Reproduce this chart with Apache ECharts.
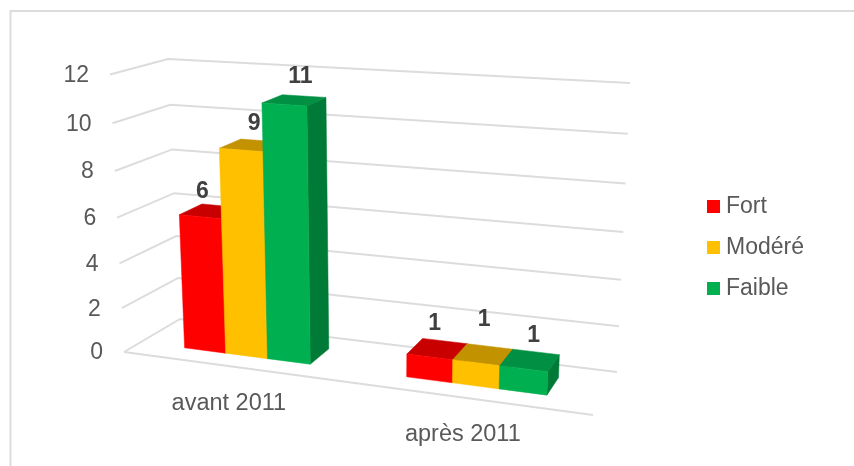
<!DOCTYPE html>
<html>
<head>
<meta charset="utf-8">
<style>
  html, body { margin: 0; padding: 0; background: #fff; }
  #chart { width: 854px; height: 466px; }
</style>
<script src="https://cdn.jsdelivr.net/npm/echarts@6/dist/echarts.min.js"></script>
</head>
<body>
<div id="chart"></div>
<script>
const categories = ["avant 2011", "après 2011"];
const tickValues = [0, 2, 4, 6, 8, 10, 12];
const fort = [6, 1];
const modere = [9, 1];
const faible = [11, 1];

const FONT = '"Liberation Sans", Arial, sans-serif';

// corners of the 3D box on the page, [front/back][left/right][bottom/top]
const box = {
  flb: [124, 352], flt: [110, 74.5],
  frb: [593, 415], frt: [606, 107],
  blb: [180, 319], blt: [168, 59],
  brb: [617, 372], brt: [630, 83],
};
const K_X = 1.116; // perspective along the categories
const K_V = 1.066; // perspective along the values
const BAR_FRONT = 0.3;
const BAR_BACK = 0.72;

function warp(a, k) {
  return a / (a + (1 - a) * k);
}
function mix(p, q, t) {
  return [p[0] + (q[0] - p[0]) * t, p[1] + (q[1] - p[1]) * t];
}
// s: 0..1 along categories, z: 0 front..1 back, t: 0..1 along values
function project(s, z, t) {
  const u = warp(s, K_X);
  const v = warp(t, K_V);
  const lb = mix(box.flb, box.blb, z);
  const lt = mix(box.flt, box.blt, z);
  const rb = mix(box.frb, box.brb, z);
  const rt = mix(box.frt, box.brt, z);
  return mix(mix(lb, rb, u), mix(lt, rt, u), v);
}
// api.coord gives plain grid pixels, turned here into box fractions
function frac(params, pt) {
  const c = params.coordSys;
  return [(pt[0] - c.x) / c.width, (c.y + c.height - pt[1]) / c.height];
}

function wallItem(params, api) {
  const f = frac(params, api.coord([0, api.value(0)]));
  const t = f[1];
  const lineStyle = { stroke: "#dcdcdc", lineWidth: 2, fill: null };
  const children = [
    {
      type: "polyline",
      shape: { points: [project(0, 0, t), project(0, 1, t), project(1, 1, t)] },
      style: lineStyle,
    },
  ];
  if (t === 0) {
    children.push({
      type: "polyline",
      shape: { points: [project(0, 0, 0), project(1, 0, 0)] },
      style: lineStyle,
    });
  }
  const p = project(0, 0, t);
  children.push({
    type: "text",
    style: {
      x: p[0] - 21,
      y: p[1] + 1,
      text: String(api.value(0)),
      align: "right",
      verticalAlign: "middle",
      font: "23px " + FONT,
      fill: "#595959",
    },
  });
  return { type: "group", children };
}

function categoryItem(params, api) {
  const f = frac(params, api.coord([api.value(0), 0]));
  const p = project(f[0], 0, 0);
  return {
    type: "text",
    style: {
      x: p[0] - 3,
      y: p[1] + 37,
      text: categories[api.value(0)],
      align: "center",
      verticalAlign: "middle",
      font: "23.5px " + FONT,
      fill: "#595959",
    },
  };
}

// label shifts from the top of each bar, by category then series
const labelShift = [
  [[2, -25], [13, -26], [16, -28]],
  [[5, -33], [8, -43], [10, -33]],
];

function barItem(seriesPos, colors) {
  return function (params, api) {
    const cat = api.value(0);
    const val = api.value(1);
    const c = params.coordSys;
    const band = api.size([1, 0])[0];
    const barW = band * 0.193;
    const pt = api.coord([cat, val]);
    const f = frac(params, pt);
    const s0 = (pt[0] - c.x + (seriesPos - 1.5) * barW) / c.width;
    const s1 = s0 + barW / c.width;
    const t = f[1];
    const P = project;
    const a = BAR_FRONT;
    const b = BAR_BACK;
    const poly = (pts, fill) => ({
      type: "polygon",
      shape: { points: pts },
      style: { fill, stroke: fill, lineWidth: 0.5 },
    });
    const top = P((s0 + s1) / 2, a, t);
    const shift = labelShift[cat][seriesPos];
    return {
      type: "group",
      children: [
        poly([P(s1, a, 0), P(s1, b, 0), P(s1, b, t), P(s1, a, t)], colors[2]),
        poly([P(s0, a, t), P(s1, a, t), P(s1, b, t), P(s0, b, t)], colors[1]),
        poly([P(s0, a, 0), P(s1, a, 0), P(s1, a, t), P(s0, a, t)], colors[0]),
        {
          type: "text",
          z2: 10,
          style: {
            x: top[0] + shift[0],
            y: top[1] + shift[1],
            text: String(val),
            align: "center",
            verticalAlign: "middle",
            font: "bold 23px " + FONT,
            fill: "#404040",
          },
        },
      ],
    };
  };
}

function barSeries(name, values, pos, colors) {
  return {
    name,
    type: "custom",
    coordinateSystem: "cartesian2d",
    clip: false,
    itemStyle: { color: colors[0] },
    encode: { x: 0, y: 1 },
    data: values.map((v, i) => [i, v]),
    renderItem: barItem(pos, colors),
  };
}

const chart = echarts.init(document.getElementById("chart"), null, { renderer: "canvas" });
chart.setOption({
  animation: false,
  backgroundColor: "#fff",
  graphic: [
    {
      type: "polyline",
      silent: true,
      shape: { points: [[10.5, 466], [10.5, 11], [854, 11]] },
      style: { fill: null, stroke: "#dcdcdc", lineWidth: 2 },
    },
  ],
  grid: { left: 100, right: 200, top: 40, bottom: 60 },
  xAxis: { type: "category", data: categories, show: false },
  yAxis: { type: "value", min: 0, max: 12, interval: 2, show: false },
  legend: {
    data: ["Fort", "Modéré", "Faible"],
    orient: "vertical",
    left: 702,
    top: 190,
    icon: "rect",
    itemWidth: 13,
    itemHeight: 13,
    itemGap: 18,
    selectedMode: false,
    textStyle: { color: "#595959", fontSize: 23, fontFamily: FONT, padding: [0, 0, 0, 1] },
  },
  series: [
    {
      type: "custom",
      coordinateSystem: "cartesian2d",
      clip: false,
      silent: true,
      encode: { y: 0 },
      data: tickValues.map((v) => [v]),
      renderItem: wallItem,
    },
    {
      type: "custom",
      coordinateSystem: "cartesian2d",
      clip: false,
      silent: true,
      encode: { x: 0 },
      data: categories.map((c, i) => [i]),
      renderItem: categoryItem,
    },
    barSeries("Fort", fort, 0, ["#ff0000", "#c80000", "#b00000"]),
    barSeries("Modéré", modere, 1, ["#ffc000", "#c39200", "#a87e00"]),
    barSeries("Faible", faible, 2, ["#00b050", "#008f43", "#007a37"]),
  ],
});
</script>
</body>
</html>
